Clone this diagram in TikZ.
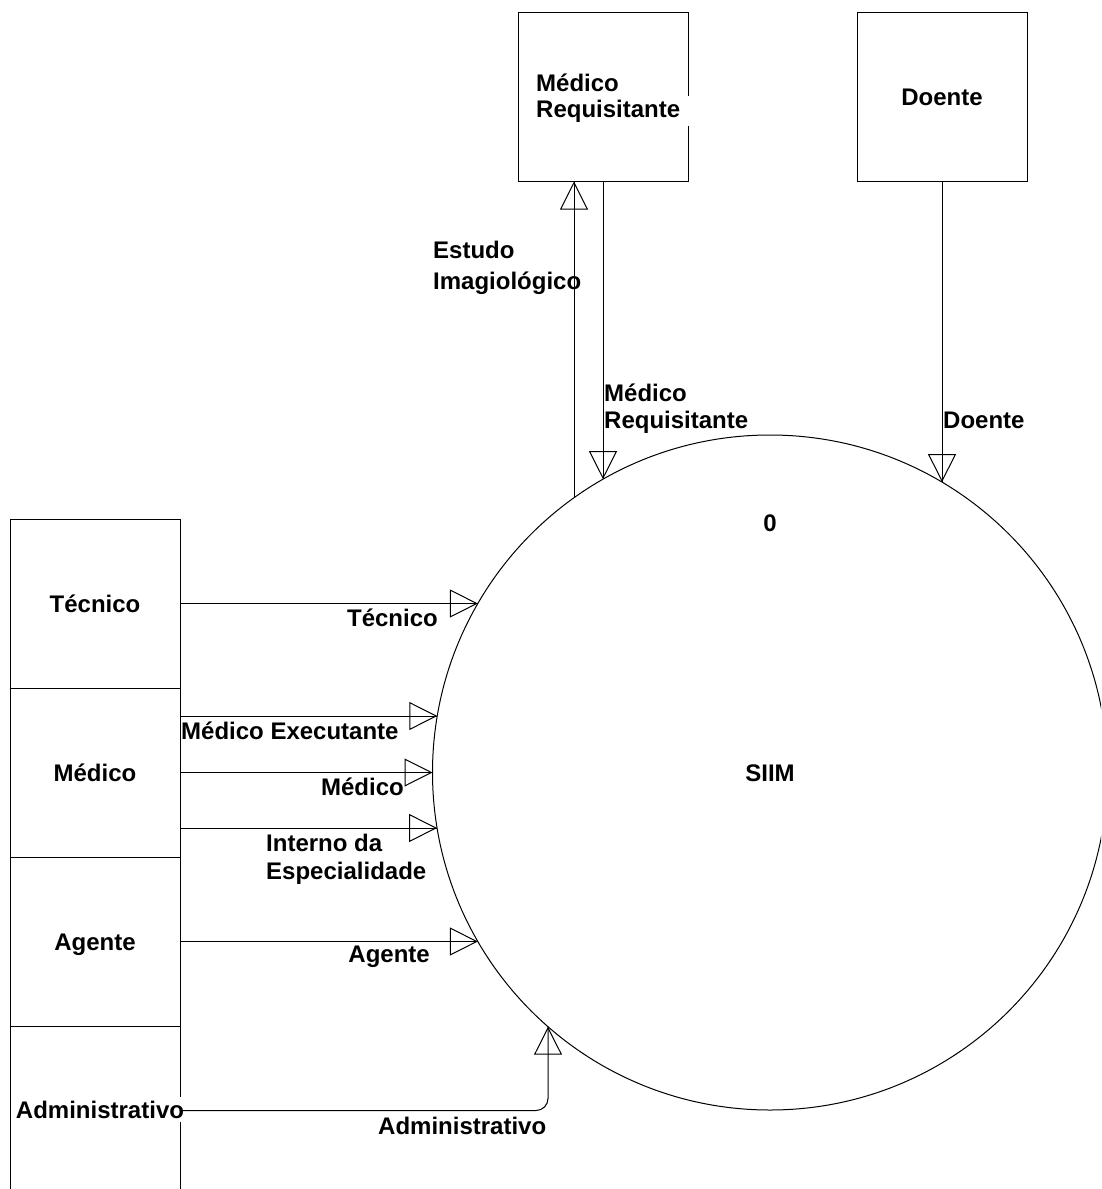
\documentclass[tikz,border=0pt]{standalone}
\usepackage{fontspec}
\setmainfont{Liberation Sans}
\usetikzlibrary{arrows.meta,decorations.markings}
\begin{document}
\begin{tikzpicture}[x=1pt,y=-1pt,
  every node/.style={font=\bfseries\fontsize{24}{27}\selectfont, inner sep=0pt},
  entity/.style={draw, line width=1pt, minimum width=170pt, minimum height=169pt,
                 text height=17.2pt, text depth=0pt},
  proc/.style={draw, circle, line width=1pt, minimum size=675pt,
               text height=17.2pt, text depth=0pt},
  flow/.style={draw, line width=1pt, postaction={decorate},
               decoration={markings, mark=at position 1 with
                 {\arrow[line width=1pt]{Triangle[open,length=28pt,width=28pt]}}}},
  lw/.style={anchor=base west},
  le/.style={anchor=base east},
  blank/.style={fill=white, inner ysep=4pt, inner xsep=0pt}
]
\useasboundingbox (0,0) rectangle (1101,1189);
\clip (0,0) rectangle (1101,1189);

% central process
\node[proc] (siim) at (770,772.5) {SIIM};
\node[anchor=base] (num) at (770,531) {0};

% external entities, top
\node[entity] (req) at (603,96.5) {};
\node[lw] (reqA) at (536,91) {Médico};
\node[lw, blank, text width=154pt, align=left] (reqB) at (536,117) {Requisitante};
\node[entity] (doe) at (942,96.5) {Doente};

% external entities, left column
\node[entity] (tec) at (95,603.5) {Técnico};
\node[entity] (med) at (95,772.5) {Médico};
\node[entity] (agt) at (95,941.5) {Agente};
\node[entity] (adm) at (95,1110.5) {};
\node[anchor=base, blank] (admT) at (100,1118) {Administrativo};

% points where the flows meet the process
\coordinate (pEst) at (574,497.7);
\coordinate (pReq) at (603,479.2);
\coordinate (pDoe) at (942,482.1);
\coordinate (pTec) at (477.9,603.5);
\coordinate (pExe) at (437.3,716);
\coordinate (pMed) at (432.5,772.5);
\coordinate (pInt) at (437.1,828);
\coordinate (pAgt) at (477.9,941.5);
\coordinate (pAdm) at (548,1026.7);
\coordinate (kAdm) at (548,1110.5);

% data flows
\path[flow] (pEst) -- (pEst |- req.south);
\path[flow] (req.south) -- (pReq);
\path[flow] (doe.south) -- (pDoe);
\path[flow] (tec.east) -- (pTec);
\path[flow] (med.east |- pExe) -- (pExe);
\path[flow] (med.east) -- (pMed);
\path[flow] (med.east |- pInt) -- (pInt);
\path[flow] (agt.east) -- (pAgt);
\path[flow, rounded corners=12pt] (adm.east) -- (kAdm) -- (pAdm);

% flow labels
\node[lw] (lEst1) at (433,258) {Estudo};
\node[lw] (lEst2) at (433,289) {Imagiológico};
\node[lw] (lReq1) at (604,401) {Médico};
\node[lw] (lReq2) at (604,428) {Requisitante};
\node[lw] (lDoe) at (943,428) {Doente};
\node[le] (lTec) at (438,626) {Técnico};
\node[lw] (lExe) at (181,739) {Médico Executante};
\node[le] (lMed) at (404,795) {Médico};
\node[lw] (lInt1) at (266,851.5) {Interno da};
\node[lw] (lInt2) at (266,879.5) {Especialidade};
\node[le] (lAgt) at (430,962) {Agente};
\node[lw] (lAdm) at (378,1134) {Administrativo};
\end{tikzpicture}
\end{document}
